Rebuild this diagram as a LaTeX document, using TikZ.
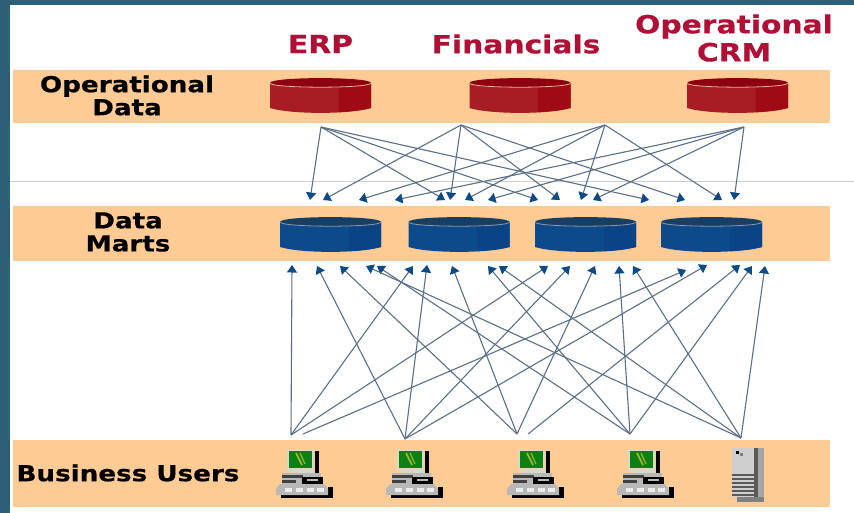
\documentclass[tikz,border=0pt]{standalone}
\usepackage{fontspec}
\setmainfont{DejaVu Sans}
\newfontfamily\lblfont[FakeStretch=1.19,FakeBold=0.5]{DejaVu Sans Bold}
\definecolor{teal}{HTML}{2C5F78}
\definecolor{band}{HTML}{FFCB94}
\definecolor{redbody}{HTML}{A81C24}
\definecolor{redside}{HTML}{A00A14}
\definecolor{redtop}{HTML}{8C0010}
\definecolor{redrim}{HTML}{F0B0A0}
\definecolor{bluebody}{HTML}{0C4A8C}
\definecolor{blueside}{HTML}{0A4484}
\definecolor{bluetop}{HTML}{173F64}
\definecolor{bluerim}{HTML}{8E9AA8}
\definecolor{wire}{HTML}{5C6F88}
\definecolor{tip}{HTML}{0E4A86}
\definecolor{crimson}{HTML}{B01035}
\definecolor{scr}{HTML}{0E7F12}
\definecolor{frameb}{HTML}{D8D8C8}
\definecolor{keyg}{HTML}{B8B8B8}
\usetikzlibrary{arrows.meta}
\tikzset{
  x=1pt,y=-1pt,
  bandbox/.style={fill=band,draw=none},
  lbl/.style={font=\lblfont\fontsize{22}{22}\selectfont,text=black,inner sep=0pt,align=center},
  head/.style={font=\lblfont\fontsize{25}{25}\selectfont,text=crimson,inner sep=0pt,align=center},
  flow/.style={draw=wire,line width=1.1pt,-{Triangle[length=7.5pt,width=10pt,fill=tip,color=tip]}},
  pics/dbcyl/.style n args={4}{code={
    \fill[#1] (-50.5,5) -- (-50.5,30) .. controls (-30,36.5) and (30,36.5) .. (50.5,30) -- (50.5,5) -- cycle;
    \fill[#2] (18,5) -- (18,34.2) .. controls (30,33.5) and (42,32) .. (50.5,30) -- (50.5,5) -- cycle;
    \fill[#4] (-50.5,5) .. controls (-50.5,11) and (50.5,11) .. (50.5,5) .. controls (50.5,-1.5) and (-50.5,-1.5) .. (-50.5,5) -- cycle;
    \draw[#3,line width=0.8pt] (-50.5,5) .. controls (-50.5,10.6) and (50.5,10.6) .. (50.5,5);
  }},
  pics/desktop/.style={code={
    \fill[black] (5,46) rectangle (57,49);
    \fill[black] (52,38) rectangle (57,47);
    \fill[black] (39,2) rectangle (43,26);
    \fill[frameb] (11,0) rectangle (38,22);
    \fill[scr] (13,1.5) rectangle (36,18.5);
    \draw[yellow!70!green!80!black,line width=1.6pt] (20,4) -- (26,16);
    \draw[yellow!70!green!80!black,line width=1.1pt] (24,4) -- (29,15);
    \fill[frameb] (17,21) rectangle (38,25);
    \fill[keyg] (6,24) rectangle (45,36);
    \fill[black!75] (6,26) rectangle (27,29);
    \fill[black!75] (6,31) rectangle (20,33.5);
    \fill[black] (26,28) rectangle (47,35);
    \fill[keyg] (31,30) rectangle (42,32);
    \fill[keyg] (4,35) -- (48,35) -- (52,40) -- (52,46) -- (0,46) -- (0,40) -- cycle;
    \foreach \kx in {9,20,31,41} \fill[white!85!gray] (\kx,38.5) rectangle ++(7,4.5);
  }},
  pics/tower/.style={code={
    \fill[gray!70] (22,1) rectangle (32,55);
    \fill[black!65] (22,1) rectangle (26,55);
    \fill[gray] (5,50) rectangle (32,55);
    \fill[gray!38] (0,1) rectangle (22,26);
    \fill[gray!38] (0,26) rectangle (22,50);
    \foreach \sy in {27,31,35,39,43,47} \fill[black!65] (0,\sy) rectangle (22,\sy+2);
    \fill[black] (3.5,3.5) rectangle (7,7);
    \fill[gray] (8,6) rectangle (11,9);
  }}
}
\begin{document}
\begin{tikzpicture}
\useasboundingbox (0,0) rectangle (854,513);
\fill[white] (0,0) rectangle (854,513);
\fill[teal] (0,0) rectangle (854,5);
\fill[teal] (0,0) rectangle (10,513);
\draw[color=gray!40,line width=0.7pt] (10,181) -- (854,181);

\fill[bandbox] (13,70) rectangle (830,123);
\fill[bandbox] (13,206) rectangle (830,261);
\fill[bandbox] (13,440) rectangle (830,507);

\node[head] (erp) at (320.5,44) {ERP};
\node[head] (fin) at (516,44) {Financials};
\node[head] (crm) at (734,38) {Operational\\[3pt]CRM};
\node[lbl] (opd) at (127,95.5) {Operational\\[1pt]Data};
\node[lbl] (dm) at (128,232) {Data\\[1pt]Marts};
\node[lbl] (bu) at (128,473) {Business Users};

\pic (r1) at (320.5,78) {dbcyl={redbody}{redside}{redrim}{redtop}};
\pic (r2) at (520,78) {dbcyl={redbody}{redside}{redrim}{redtop}};
\pic (r3) at (737.5,78) {dbcyl={redbody}{redside}{redrim}{redtop}};
\pic (b1) at (330.5,217) {dbcyl={bluebody}{blueside}{bluerim}{bluetop}};
\pic (b2) at (459,217) {dbcyl={bluebody}{blueside}{bluerim}{bluetop}};
\pic (b3) at (585.5,217) {dbcyl={bluebody}{blueside}{bluerim}{bluetop}};
\pic (b4) at (711.5,217) {dbcyl={bluebody}{blueside}{bluerim}{bluetop}};

\pic (pc1) at (276,449) {desktop};
\pic (pc2) at (386,449) {desktop};
\pic (pc3) at (507,449) {desktop};
\pic (pc4) at (617,449) {desktop};
\pic (srv) at (732,447) {tower};

% sources, top tier
\coordinate (sa) at (321,127);
\coordinate (sb) at (461,125);
\coordinate (sc) at (605,125);
\coordinate (sd) at (744,127);
% targets above the data marts
\foreach \nm/\tx in {t1/310,t2/323,t3/359,t4/395,t5/445,t6/450,t7/465,t8/488,t9/538,t10/560,t11/568,t12/581,t13/593,t14/649,t15/685,t16/722,t17/734}
  \coordinate (\nm) at (\tx,200);
\foreach \s/\t in {sa/t1,sa/t5,sa/t9,sa/t14,sb/t2,sb/t6,sb/t10,sb/t15,sc/t3,sc/t7,sc/t12,sc/t16,sd/t4,sd/t8,sd/t13,sd/t17}
  \draw[flow] (\s) -- (\t);

% sources, bottom tier
\coordinate (ua) at (291,435);
\coordinate (uax) at (303,434);
\coordinate (ub) at (405,439);
\coordinate (uc) at (517,434);
\coordinate (ucx) at (528,434);
\coordinate (ud) at (630,434);
\coordinate (ue) at (741,438);
% targets below the data marts
\foreach \nm/\tx/\ty in {m1/292/265,m2/317/266,m3/340/266,m4/366/266,m5/377/266,m6/413/266,m7/427/265,m8/452/266,m9/488/266,m10/499/266,m11/548/266,m12/570/266,m13/595/266,m14/619/266,m15/633/266,m16/686/270,m17/707/265,m18/740/265,m19/752/266,m20/765/266}
  \coordinate (\nm) at (\tx,\ty);
\foreach \s/\t in {ua/m1,ua/m6,ua/m11,uax/m16,ub/m2,ub/m7,ub/m12,ub/m17,uc/m3,uc/m8,uc/m13,ucx/m18,ud/m5,ud/m9,ud/m14,ud/m19,ue/m4,ue/m10,ue/m15,ue/m20}
  \draw[flow] (\s) -- (\t);
\end{tikzpicture}
\end{document}
